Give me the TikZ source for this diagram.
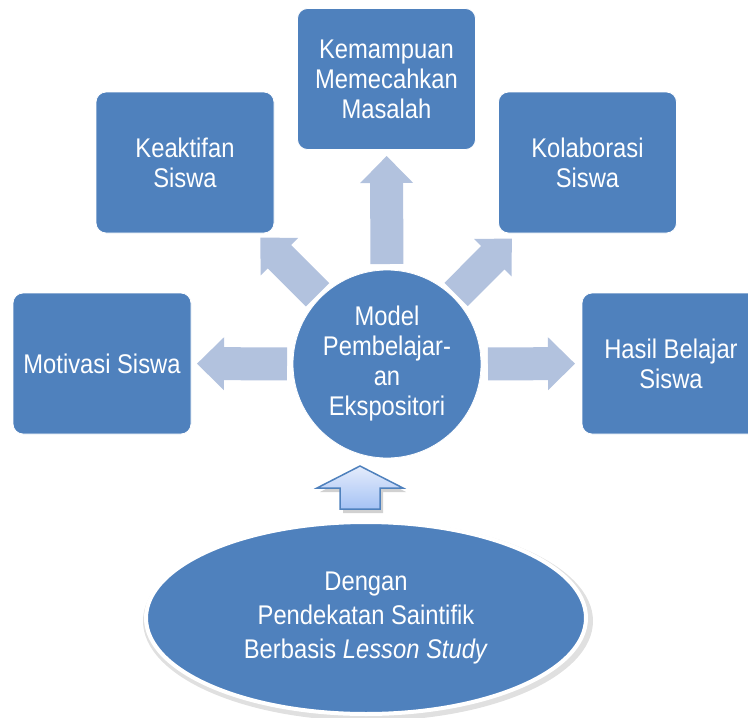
\documentclass[tikz,border=0pt]{standalone}
\usepackage{fontspec}
\setmainfont{Liberation Sans}[FakeStretch=0.88]
\usepackage{tikz}
\usetikzlibrary{calc,shapes.geometric}
\definecolor{boxblue}{RGB}{79,129,189}
\definecolor{spokefill}{RGB}{178,194,222}
\definecolor{uptop}{RGB}{228,236,252}
\definecolor{upbottom}{RGB}{165,194,244}
\tikzset{
  topic/.style={fill=boxblue,draw=white,line width=0.8pt,rounded corners=10pt,
    minimum width=178pt,minimum height=141pt,inner sep=0pt,align=center,text=white},
  hub/.style={circle,fill=boxblue,draw=white,line width=0.8pt,minimum size=188pt,
    inner sep=0pt,align=center,text=white},
}
\newcommand{\spokearrow}[4]{%
  \coordinate (sS) at ($(#1.center)!#3!(#2.center)$);%
  \coordinate (sT) at ($(#1.center)!#4!(#2.center)$);%
  \coordinate (sB) at ($(sT)!27pt!(sS)$);%
  \fill[spokefill] ($(sS)!16.5pt!90:(sT)$) -- ($(sB)!16.5pt!90:(sT)$)
    -- ($(sB)!26.5pt!90:(sT)$) -- (sT) -- ($(sB)!26.5pt!-90:(sT)$)
    -- ($(sB)!16.5pt!-90:(sT)$) -- ($(sS)!16.5pt!-90:(sT)$) -- cycle;%
}

\begin{document}
\begin{tikzpicture}[x=1pt,y=-1pt,font=\fontsize{27}{30}\selectfont]
  \useasboundingbox (0,0) rectangle (748,718);
  \node[topic] (kem) at (386.5,79) {Kemampuan\\Memecahkan\\Masalah};
  \node[topic] (keak) at (185,162.5) {Keaktifan\\Siswa};
  \node[topic] (kolab) at (587.5,162.5) {Kolaborasi\\Siswa};
  \node[topic] (motiv) at (102,363.5) {Motivasi Siswa};
  \node[topic] (hasil) at (671,363.5) {Hasil Belajar\\Siswa};
  \node[hub] (model) at (387,364) {Model\\Pembelajar-\\an\\Ekspositori};
  \spokearrow{model}{kem}{100pt}{208pt}
  \spokearrow{model}{keak}{98pt}{179pt}
  \spokearrow{model}{kolab}{98pt}{177pt}
  \spokearrow{model}{motiv}{100pt}{190pt}
  \spokearrow{model}{hasil}{101pt}{188pt}
  % base ellipse with soft halo
  \fill[black!12] (368,621) ellipse [x radius=225pt, y radius=100pt];
  \node[ellipse,fill=boxblue,draw=white,line width=4pt,minimum width=440pt,minimum height=192pt,
    inner sep=0pt,align=center,text=white,font=\fontsize{27}{34}\selectfont] (dengan) at (366,618)
    {Dengan\\Pendekatan Saintifik\\Berbasis \textit{Lesson Study}};
  % arrow from ellipse up to the hub
  \coordinate (upT) at (360,466);
  \fill[black!18,shift={(363,470)}] (0,0) -- (43,22) -- (20,22) -- (20,43) -- (-20,43) -- (-20,22) -- (-43,22) -- cycle;
  \draw[boxblue,line width=1.5pt,line join=miter,top color=uptop,bottom color=upbottom,shift={(upT)}]
    (0,0) -- (43,22) -- (20,22) -- (20,43) -- (-20,43) -- (-20,22) -- (-43,22) -- cycle;
\end{tikzpicture}
\end{document}
